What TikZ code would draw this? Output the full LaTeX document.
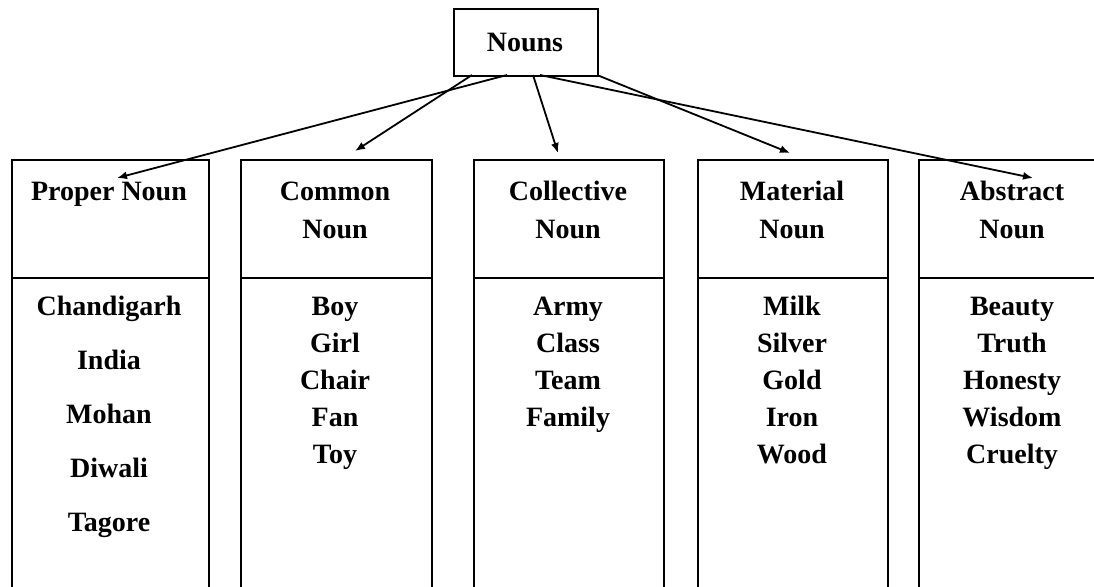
\documentclass[tikz,border=0pt]{standalone}
\usepackage{fontspec}
\setmainfont{Liberation Serif}
\usetikzlibrary{arrows.meta}
\tikzset{
  frame/.style={draw=black, line width=1.6pt, inner sep=0pt, anchor=north west},
  word/.style={font=\fontsize{28}{34}\selectfont\bfseries, inner sep=0pt, anchor=base},
  link/.style={line width=1.8pt, -{Latex[length=10pt,width=8pt]}}
}
\begin{document}
\begin{tikzpicture}[x=1pt,y=-1pt]
\useasboundingbox (0,0) rectangle (1094,586);
\clip (0,0) rectangle (1094,586);
% root
\node[frame, minimum width=144pt, minimum height=67pt] (nouns) at (453,8) {};
\node[word] (nounst) at (525,52) {Nouns};
% columns
\foreach \n/\x/\w in {1/11/197, 2/240/191, 3/473/190, 4/697/190, 5/918/190}{
  \node[frame, minimum width=\w pt, minimum height=118pt] (h\n) at (\x,159) {};
  \node[frame, minimum width=\w pt, minimum height=330pt] (b\n) at (\x,277) {};
}
% headers
\node[word] (t1) at (109,200) {Proper Noun};
\node[word] (t2a) at (335,200) {Common};
\node[word] (t2b) at (335,238) {Noun};
\node[word] (t3a) at (568,200) {Collective};
\node[word] (t3b) at (568,238) {Noun};
\node[word] (t4a) at (792,200) {Material};
\node[word] (t4b) at (792,238) {Noun};
\node[word] (t5a) at (1012,200) {Abstract};
\node[word] (t5b) at (1012,238) {Noun};
% items
\foreach \w [count=\i] in {Chandigarh,India,Mohan,Diwali,Tagore}
  \node[word] (pa\i) at (109,{315+54*(\i-1)}) {\w};
\foreach \w [count=\i] in {Boy,Girl,Chair,Fan,Toy}
  \node[word] (co\i) at (335,{315+37*(\i-1)}) {\w};
\foreach \w [count=\i] in {Army,Class,Team,Family}
  \node[word] (cl\i) at (568,{315+37*(\i-1)}) {\w};
\foreach \w [count=\i] in {Milk,Silver,Gold,Iron,Wood}
  \node[word] (ma\i) at (792,{315+37*(\i-1)}) {\w};
\foreach \w [count=\i] in {Beauty,Truth,Honesty,Wisdom,Cruelty}
  \node[word] (ab\i) at (1012,{315+37*(\i-1)}) {\w};
% arrow ends
\coordinate (s1) at (507,75);
\coordinate (s2) at (472,75);
\coordinate (s3) at (533,75);
\coordinate (s4) at (597,75);
\coordinate (s5) at (540,75);
\coordinate (e1) at (117,178);
\coordinate (e2) at (355,151);
\coordinate (e3) at (558,153);
\coordinate (e4) at (790,153);
\coordinate (e5) at (1033,178);
\draw[link] (s1) -- (e1);
\draw[link] (s2) -- (e2);
\draw[link] (s3) -- (e3);
\draw[link] (s4) -- (e4);
\draw[link] (s5) -- (e5);
\end{tikzpicture}
\end{document}
